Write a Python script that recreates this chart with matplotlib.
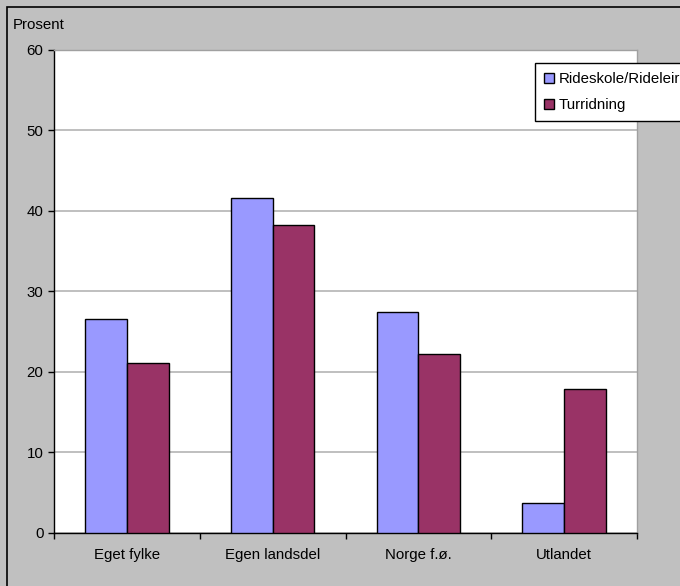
import matplotlib.pyplot as plt
import matplotlib.patches as patches
import numpy as np

categories = ['Eget fylke', 'Egen landsdel', 'Norge f.ø.', 'Utlandet']
rideskole = [26.5, 41.6, 27.4, 3.7]
turridning = [21.1, 38.2, 22.2, 17.8]
series_names = ['Rideskole/Rideleir', 'Turridning']
y_ticks = [0, 10, 20, 30, 40, 50, 60]

plt.rcParams['font.family'] = ['Liberation Sans', 'DejaVu Sans']
plt.rcParams['font.size'] = 10.8

W, H = 680, 586
fig = plt.figure(figsize=(W / 100, H / 100), dpi=100)
fig.patch.set_facecolor('#C0C0C0')

# chart border (runs off the right and bottom edges)
fig.patches.append(patches.Rectangle((7 / W, -0.2), 2, 1.2 - 7 / H,
                                     transform=fig.transFigure, fill=False,
                                     edgecolor='black', linewidth=1.2))

ax = fig.add_axes([54.3 / W, (H - 532.7) / H, (636.7 - 54.3) / W, (532.7 - 49.7) / H])
ax.set_facecolor('white')

x = np.arange(len(categories))
w = 0.2865
b1 = ax.bar(x - w / 2, rideskole, w, color='#9999FF', edgecolor='black', linewidth=1, zorder=3)
b2 = ax.bar(x + w / 2, turridning, w, color='#993366', edgecolor='black', linewidth=1, zorder=3)

ax.set_xlim(-0.5, 3.5)
ax.set_ylim(0, 60)
ax.set_yticks(y_ticks)
ax.yaxis.grid(True, color='#B4B4B4', linewidth=1.2, zorder=0)
ax.set_axisbelow(True)

ax.set_xticks(x)
ax.set_xticklabels(categories)
ax.set_xticks(np.arange(-0.5, 4, 1), minor=True)
ax.tick_params(axis='x', which='major', length=0, pad=11)
ax.tick_params(axis='x', which='minor', length=4, direction='out', width=1)
ax.tick_params(axis='y', length=4.3, width=1, pad=3.5)

for side in ['top', 'right']:
    ax.spines[side].set_color('#A0A0A0')
    ax.spines[side].set_linewidth(1)
for side in ['left', 'bottom']:
    ax.spines[side].set_color('black')
    ax.spines[side].set_linewidth(1)

fig.text(13 / W, 1 - 25 / H, 'Prosent', va='center', ha='left')

leg = fig.legend([b1, b2], series_names, loc='upper left',
                 bbox_to_anchor=(535 / W, 1 - 63.3 / H), frameon=True,
                 fancybox=False, shadow=False, handlelength=0.65, handleheight=0.65,
                 handletextpad=0.35, labelspacing=0.8, borderpad=0.6, borderaxespad=0)
leg.get_frame().set_edgecolor('black')
leg.get_frame().set_linewidth(1)
leg.get_frame().set_facecolor('white')
leg.get_frame().set_alpha(1)

fig.savefig('out.png', dpi=100, facecolor=fig.get_facecolor())
